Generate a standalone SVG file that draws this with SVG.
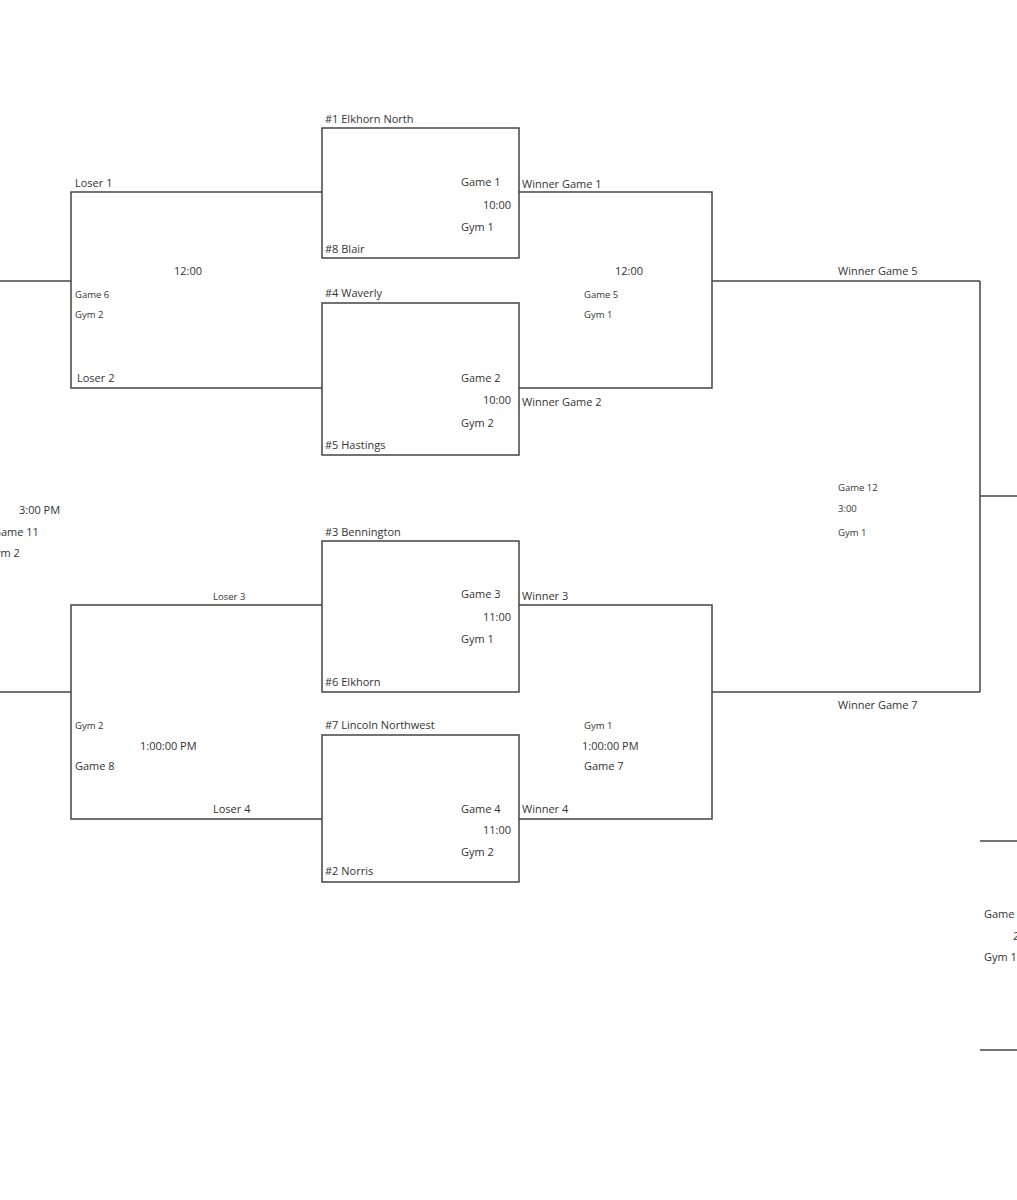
<svg xmlns="http://www.w3.org/2000/svg" width="1017" height="1200" viewBox="0 0 1017 1200">
<style>
text{font-family:"Open Sans","Liberation Sans",sans-serif;font-size:11px;fill:#333}
.s{font-size:9.5px}
.r{text-anchor:end}
.box{fill:none;stroke:#444;stroke-width:1.5}
.ln{fill:none;stroke:#444;stroke-width:1.5}
</style>
<rect width="1017" height="1200" fill="#fff"/>
<g id="connectors">
<polyline class="ln" points="322,192 71,192 71,388 322,388"/>
<line class="ln" x1="0" y1="281" x2="71" y2="281"/>
<polyline class="ln" points="519,192 712,192 712,388 519,388"/>
<line class="ln" x1="712" y1="281" x2="980" y2="281"/>
<polyline class="ln" points="322,605 71,605 71,819 322,819"/>
<line class="ln" x1="0" y1="692" x2="71" y2="692"/>
<polyline class="ln" points="519,605 712,605 712,819 519,819"/>
<line class="ln" x1="712" y1="692" x2="980" y2="692"/>
<line class="ln" x1="980" y1="281" x2="980" y2="692"/>
<line class="ln" x1="980" y1="496" x2="1017" y2="496"/>
<line class="ln" x1="980" y1="841" x2="1017" y2="841"/>
<line class="ln" x1="980" y1="1050" x2="1017" y2="1050"/>
</g>
<g id="game1">
<rect class="box" x="322" y="128" width="197" height="130"/>
<text x="325" y="123">#1 Elkhorn North</text>
<text x="325" y="253">#8 Blair</text>
<text x="461" y="186">Game 1</text>
<text x="483" y="209">10:00</text>
<text x="461" y="231">Gym 1</text>
<text x="522" y="188">Winner Game 1</text>
</g>
<g id="game2">
<rect class="box" x="322" y="303" width="197" height="152"/>
<text x="325" y="297">#4 Waverly</text>
<text x="325" y="449">#5 Hastings</text>
<text x="461" y="382">Game 2</text>
<text x="483" y="404">10:00</text>
<text x="461" y="427">Gym 2</text>
<text x="522" y="406">Winner Game 2</text>
</g>
<g id="game3">
<rect class="box" x="322" y="541" width="197" height="151"/>
<text x="325" y="536">#3 Bennington</text>
<text x="325" y="686">#6 Elkhorn</text>
<text x="461" y="598">Game 3</text>
<text x="483" y="621">11:00</text>
<text x="461" y="643">Gym 1</text>
<text x="522" y="600">Winner 3</text>
</g>
<g id="game4">
<rect class="box" x="322" y="735" width="197" height="147"/>
<text x="325" y="729">#7 Lincoln Northwest</text>
<text x="325" y="875">#2 Norris</text>
<text x="461" y="813">Game 4</text>
<text x="483" y="834">11:00</text>
<text x="461" y="856">Gym 2</text>
<text x="522" y="813">Winner 4</text>
</g>
<g id="game6">
<text x="75" y="187">Loser 1</text>
<text x="77" y="382">Loser 2</text>
<text x="174" y="275">12:00</text>
<text class="s" x="75" y="298">Game 6</text>
<text class="s" x="75" y="318">Gym 2</text>
</g>
<g id="game5">
<text x="615" y="275">12:00</text>
<text class="s" x="584" y="298">Game 5</text>
<text class="s" x="584" y="318">Gym 1</text>
<text x="838" y="275">Winner Game 5</text>
</g>
<g id="game8">
<text class="s" x="213" y="600">Loser 3</text>
<text x="213" y="813">Loser 4</text>
<text class="s" x="75" y="729">Gym 2</text>
<text x="140" y="750">1:00:00 PM</text>
<text x="75" y="770">Game 8</text>
</g>
<g id="game7">
<text class="s" x="584" y="729">Gym 1</text>
<text x="582" y="750">1:00:00 PM</text>
<text x="584" y="770">Game 7</text>
<text x="838" y="709">Winner Game 7</text>
</g>
<g id="game12">
<text class="s" x="838" y="491">Game 12</text>
<text class="s" x="838" y="512">3:00</text>
<text class="s" x="838" y="536">Gym 1</text>
</g>
<g id="game11">
<text x="19" y="514">3:00 PM</text>
<text x="-7" y="536">Game 11</text>
<text x="-13" y="557">Gym 2</text>
</g>
<g id="game-right">
<text x="984" y="918">Game 10</text>
<text x="1013" y="940">2:00</text>
<text x="984" y="961">Gym 1</text>
</g>
</svg>
